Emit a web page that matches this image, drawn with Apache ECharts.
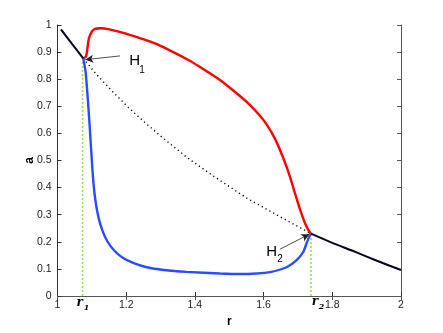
<!DOCTYPE html>
<html>
<head>
<meta charset="utf-8">
<script src="https://cdn.jsdelivr.net/npm/echarts@6/dist/echarts.min.js"></script>
<style>
html,body{margin:0;padding:0;background:#fff;}
#chart{width:443px;height:333px;}
</style>
</head>
<body>
<div id="chart"></div>
<script>
// equilibrium branch (stable parts) and the unstable part in between
var eqLeft = [[1.01,0.984],[1.04,0.934],[1.075,0.877]];
var eqUnstable = [[1.075,0.877],[1.114,0.817],[1.16,0.755],[1.211,0.690],[1.26,0.634],[1.308,0.582],
	[1.376,0.512],[1.45,0.446],[1.55,0.362],[1.65,0.291],[1.738,0.230]];
var eqRight = [[1.738,0.230],[1.8,0.196],[1.867,0.163],[1.93,0.130],[2.0,0.096]];
// max / min of the limit cycle
var cycleMax = [[1.076,0.877],[1.083,0.884],[1.087,0.912],[1.091,0.948],[1.099,0.974],[1.109,0.986],
	[1.125,0.988],[1.148,0.985],[1.197,0.969],[1.284,0.932],[1.381,0.871],[1.415,0.845],[1.473,0.797],
	[1.531,0.738],[1.56,0.705],[1.59,0.664],[1.612,0.627],[1.634,0.578],[1.657,0.510],[1.676,0.443],
	[1.693,0.372],[1.708,0.312],[1.72,0.270],[1.73,0.244],[1.738,0.230]];
var cycleMin = [[1.075,0.877],[1.082,0.825],[1.088,0.730],[1.093,0.640],[1.097,0.560],[1.101,0.480],
	[1.105,0.412],[1.111,0.347],[1.119,0.292],[1.130,0.244],[1.145,0.202],[1.165,0.168],[1.19,0.141],
	[1.22,0.122],[1.26,0.106],[1.31,0.096],[1.376,0.089],[1.473,0.083],[1.53,0.081],[1.58,0.083],
	[1.619,0.088],[1.667,0.106],[1.696,0.132],[1.716,0.164],[1.725,0.194],[1.735,0.225],[1.738,0.230]];
// Hopf points
var hopf1 = [1.073,0.877];
var hopf2 = [1.738,0.230];
var xTicks = [1,1.2,1.4,1.6,1.8,2];

var font = 'Liberation Sans';
var chart = echarts.init(document.getElementById('chart'));

function noLabelPoint(coord, text, off, style){
	return {coord:coord, symbolSize:0, label:{show:true, position:'inside', offset:off, formatter:text,
		color:'#000', fontFamily:style.ff||font, fontSize:style.fs, fontWeight:style.fw||'normal', fontStyle:style.it||'normal'}};
}

var option = {
	animation:false,
	grid:{left:57.5, right:42, top:25, bottom:37},
	xAxis:[{
		type:'value', min:1, max:2, interval:0.2,
		name:'r', nameLocation:'middle', nameGap:20, nameMoveOverlap:false,
		nameTextStyle:{fontFamily:font, fontSize:12, fontWeight:'bold', color:'#000'},
		axisLine:{lineStyle:{color:'#333', width:1}},
		axisTick:{inside:true, length:4, lineStyle:{color:'#333'}},
		axisLabel:{fontFamily:font, fontSize:10.5, color:'#222', margin:4,
			formatter:function(v){ return xTicks.indexOf(Math.round(v*10)/10)>=0 ? String(Math.round(v*10)/10) : ''; }},
		splitLine:{show:false}
	},{
		type:'value', min:1, max:2, interval:0.2, position:'top',
		axisLine:{show:true, lineStyle:{color:'#555', width:1}},
		axisTick:{inside:true, length:4, lineStyle:{color:'#555'}},
		axisLabel:{show:false}, splitLine:{show:false}
	}],
	yAxis:[{
		type:'value', min:0, max:1, interval:0.1,
		name:'a', nameLocation:'middle', nameGap:22, nameRotate:90, nameMoveOverlap:false,
		nameTextStyle:{fontFamily:font, fontSize:12, fontWeight:'bold', color:'#000'},
		axisLine:{show:true, lineStyle:{color:'#333', width:1}},
		axisTick:{show:true, inside:true, length:4, lineStyle:{color:'#333'}},
		axisLabel:{fontFamily:font, fontSize:10.5, color:'#222', margin:6,
			formatter:function(v){ return String(Math.round(v*10)/10); }},
		splitLine:{show:false}
	},{
		type:'value', min:0, max:1, interval:0.1, position:'right',
		axisLine:{show:true, lineStyle:{color:'#555', width:1}},
		axisTick:{show:true, inside:true, length:4, lineStyle:{color:'#555'}},
		axisLabel:{show:false}, splitLine:{show:false}
	}],
	series:[
		{type:'line', data:[[hopf1[0],0],hopf1], symbol:'none', silent:true,
			lineStyle:{color:'#8ee84a', width:1.6, type:[2,2]},
			markPoint:{silent:true, data:[
				noLabelPoint([hopf1[0],0], 'r', [-3,6.5], {ff:'DejaVu Serif', fs:12, fw:'bold', it:'italic'}),
				noLabelPoint([hopf1[0],0], '1', [4,12], {ff:'DejaVu Serif', fs:8, fw:'bold', it:'italic'})
			]}},
		{type:'line', data:[[hopf2[0],0],hopf2], symbol:'none', silent:true,
			lineStyle:{color:'#8ee84a', width:1.6, type:[2,2]},
			markPoint:{silent:true, data:[
				noLabelPoint([hopf2[0],0], 'r', [4,6], {ff:'DejaVu Serif', fs:12, fw:'bold', it:'italic'}),
				noLabelPoint([hopf2[0],0], '2', [10.5,11], {ff:'DejaVu Serif', fs:8, fw:'bold', it:'italic'})
			]}},
		{type:'line', data:eqUnstable, symbol:'none', silent:true,
			lineStyle:{color:'#000', width:1.4, type:[1.2,3.2]}},
		{type:'line', data:cycleMax, symbol:'none', silent:true, smooth:0.2,
			lineStyle:{color:'#ff0000', width:2.4}},
		{type:'line', data:cycleMin, symbol:'none', silent:true, smooth:0.2,
			lineStyle:{color:'#2a4cff', width:2.4}},
		{type:'line', data:eqLeft, symbol:'none', silent:true,
			lineStyle:{color:'#05051a', width:2}},
		{type:'line', data:eqRight, symbol:'none', silent:true, smooth:0.2,
			lineStyle:{color:'#05051a', width:2},
			markLine:{silent:true, symbol:['none','arrow'], symbolSize:[6,8],
				label:{show:false}, lineStyle:{color:'#222', width:0.8, type:'solid'},
				data:[
					[{coord:[1.182,0.886]},{coord:[1.081,0.872]}],
					[{coord:[1.648,0.173]},{coord:[1.733,0.228]}]
				]},
			markPoint:{silent:true, data:[
				noLabelPoint([1.2247,0.866], 'H', [0,0], {fs:15}),
				noLabelPoint([1.2458,0.834], '1', [0,0], {fs:10}),
				noLabelPoint([1.6236,0.1635], 'H', [0,0], {fs:15}),
				noLabelPoint([1.648,0.137], '2', [0,0], {fs:10})
			]}}
	]
};
chart.setOption(option);
</script>
</body>
</html>
